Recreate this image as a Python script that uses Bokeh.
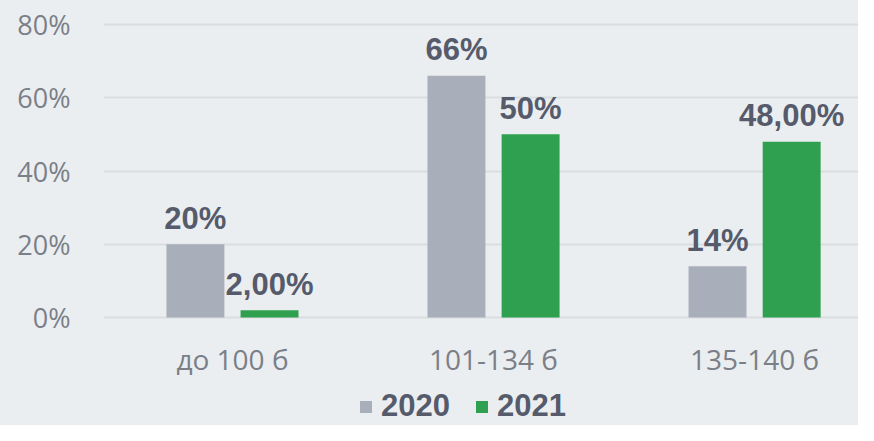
from bokeh.plotting import figure
from bokeh.layouts import column
from bokeh.models import ColumnDataSource, Range1d, FixedTicker, Legend, LegendItem
from bokeh.transform import dodge
from bokeh.core.properties import value
from bokeh.embed import file_html
from bokeh.resources import INLINE

categories = ["до 100 б", "101-134 б", "135-140 б"]
years = ["2020", "2021"]
v2020 = [20, 66, 14]
v2021 = [2, 50, 48]
labels2020 = ["20%", "66%", "14%"]
labels2021 = ["2,00%", "50%", "48,00%"]
y_ticks = [0, 20, 40, 60, 80]

BG = "#EBEEF0"
GRAY = "#A9AFBA"
GREEN = "#2FA04F"
LABEL_C = "#565B6C"
AXIS_C = "#7A7F88"

xs = list(range(len(categories)))
src = ColumnDataSource(dict(x=xs, v2020=v2020, v2021=v2021, l2020=labels2020, l2021=labels2021))

p = figure(width=858, height=380, output_backend="svg", toolbar_location=None,
           x_range=Range1d(-0.494, 2.398), y_range=Range1d(-2.18, 82.18),
           min_border_left=103, min_border_right=0, min_border_top=16, min_border_bottom=54)
p.background_fill_color = BG
p.border_fill_color = BG
p.outline_line_color = None

r1 = p.vbar(x=dodge("x", -0.142, range=p.x_range), top="v2020", width=0.222, source=src,
            fill_color=GRAY, line_color=None)
r2 = p.vbar(x=dodge("x", 0.142, range=p.x_range), top="v2021", width=0.222, source=src,
            fill_color=GREEN, line_color=None)

for off, col in ((-0.142, "2020"), (0.142, "2021")):
    p.text(x=dodge("x", off, range=p.x_range), y="v" + col, text="l" + col, source=src,
           text_align="center", text_baseline="alphabetic", y_offset=-26,
           text_font=value("Liberation Sans"), text_font_style="bold",
           text_font_size="31px", text_color=LABEL_C)

p.xgrid.grid_line_color = None
p.ygrid.grid_line_color = "#DADDE0"
p.ygrid.grid_line_width = 2
p.yaxis.ticker = FixedTicker(ticks=y_ticks)
p.yaxis.major_label_overrides = {t: f"{t}%" for t in y_ticks}
p.xaxis.ticker = FixedTicker(ticks=xs)
p.xaxis.major_label_overrides = {i: c for i, c in enumerate(categories)}

for ax in (p.xaxis, p.yaxis):
    ax.axis_line_color = None
    ax.major_tick_line_color = None
    ax.minor_tick_line_color = None
    ax.major_label_text_font = "Open Sans"
    ax.major_label_text_color = AXIS_C
p.yaxis.major_label_text_font_size = "27px"
p.xaxis.major_label_text_font_size = "28px"
p.yaxis.major_label_standoff = 27
p.xaxis.major_label_standoff = 8

# legend strip below the chart (same bar series, hidden, used only for the legend glyphs)
pl = figure(width=858, height=45, output_backend="svg", toolbar_location=None,
            x_range=p.x_range, y_range=Range1d(0, 1),
            min_border_left=103, min_border_right=0, min_border_top=0, min_border_bottom=0)
pl.background_fill_color = BG
pl.border_fill_color = BG
pl.outline_line_color = None
pl.axis.visible = False
pl.grid.grid_line_color = None
g1 = pl.vbar(x=dodge("x", -0.142, range=pl.x_range), top="v2020", width=0.222, source=src,
             fill_color=GRAY, line_color=None, visible=False)
g2 = pl.vbar(x=dodge("x", 0.142, range=pl.x_range), top="v2021", width=0.222, source=src,
             fill_color=GREEN, line_color=None, visible=False)

legend = Legend(items=[LegendItem(label=years[0], renderers=[g1]),
                       LegendItem(label=years[1], renderers=[g2])],
                location=(255, 1), orientation="horizontal",
                background_fill_alpha=0, border_line_color=None,
                inactive_fill_alpha=0,
                label_text_font="Liberation Sans", label_text_font_style="bold",
                label_text_font_size="31px", label_text_color=LABEL_C,
                glyph_width=15, glyph_height=15, label_standoff=8, spacing=24,
                padding=0, margin=0)
pl.add_layout(legend, "center")

layout = column(p, pl, spacing=0, styles={"background-color": BG})
open("out.html", "w").write(file_html(layout, INLINE))
